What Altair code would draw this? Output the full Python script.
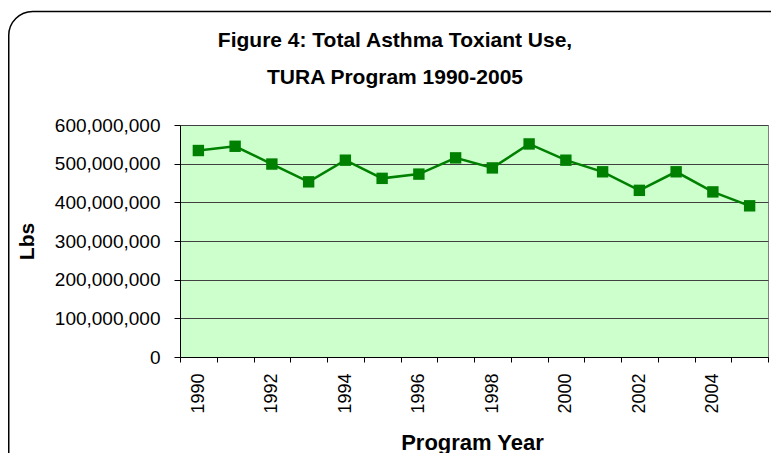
import altair as alt
import pandas as pd

years = list(range(1990, 2006))
lbs = [534e6, 545e6, 499e6, 453e6, 509e6, 462e6, 473e6, 515e6,
       489e6, 551e6, 509e6, 479e6, 431e6, 479e6, 427e6, 391e6]
y_ticks = [0, 100e6, 200e6, 300e6, 400e6, 500e6, 600e6]
title_lines = ["Figure 4: Total Asthma Toxiant Use,", "TURA Program 1990-2005"]

FONT = "Liberation Sans, Arial, sans-serif"

df = pd.DataFrame({"year": years, "lbs": lbs})

frame = alt.Chart(pd.DataFrame({"a": [0]})).mark_rect(
    filled=False, color="black", strokeWidth=1.5, cornerRadius=24
).encode(
    x=alt.value(-171.25), x2=alt.value(640),
    y=alt.value(-113.5), y2=alt.value(420)
)

line = alt.Chart(df).mark_line(
    color="#008000", strokeWidth=2.5,
    point=alt.OverlayMarkDef(shape="square", size=130, filled=True,
                             color="#008000", opacity=1)
).encode(
    x=alt.X("year:O",
            scale=alt.Scale(type="band", paddingInner=0, paddingOuter=0),
            bandPosition=0.5,
            axis=alt.Axis(
                title="Program Year", tickBand="extent", tickSize=5,
                labelAngle=270, labelAlign="right", labelBaseline="middle",
                labelPadding=11, labelFontSize=18, labelColor="black",
                labelExpr="datum.value % 2 == 0 ? datum.label : ''",
                labelOverlap=False,
                titleFontSize=22, titleFontWeight="bold", titleColor="black",
                titleX=292, titleY=92, titleBaseline="alphabetic",
                domainColor="black", tickColor="black", grid=False)),
    y=alt.Y("lbs:Q",
            scale=alt.Scale(domain=[0, 600e6], nice=False),
            axis=alt.Axis(
                title="Lbs", values=y_ticks, format=",d", tickSize=6,
                labelPadding=14, labelFontSize=19, labelColor="black",
                titleFontSize=21, titleFontWeight="bold", titleColor="black",
                titleAngle=270, titleX=-147, titleY=116,
                titleBaseline="alphabetic", titleAlign="center",
                domainColor="black", tickColor="black",
                gridColor="#404040", gridWidth=1))
)

chart = alt.layer(frame, line).properties(
    width=588, height=232,
    padding={"left": 172, "top": 117, "right": 3, "bottom": 96},
    autosize=alt.AutoSizeParams(type="none"),
    title=alt.TitleParams(text=title_lines, fontSize=21, fontWeight="bold",
                          anchor="middle", dx=-79, offset=-98, lineHeight=37,
                          baseline="bottom", color="black", font=FONT),
    background="white",
).configure(font=FONT).configure_view(
    fill="#CCFFCC", stroke="#808080", strokeWidth=1
)

chart.save("out.html", embed_options={"renderer": "svg", "actions": False})
